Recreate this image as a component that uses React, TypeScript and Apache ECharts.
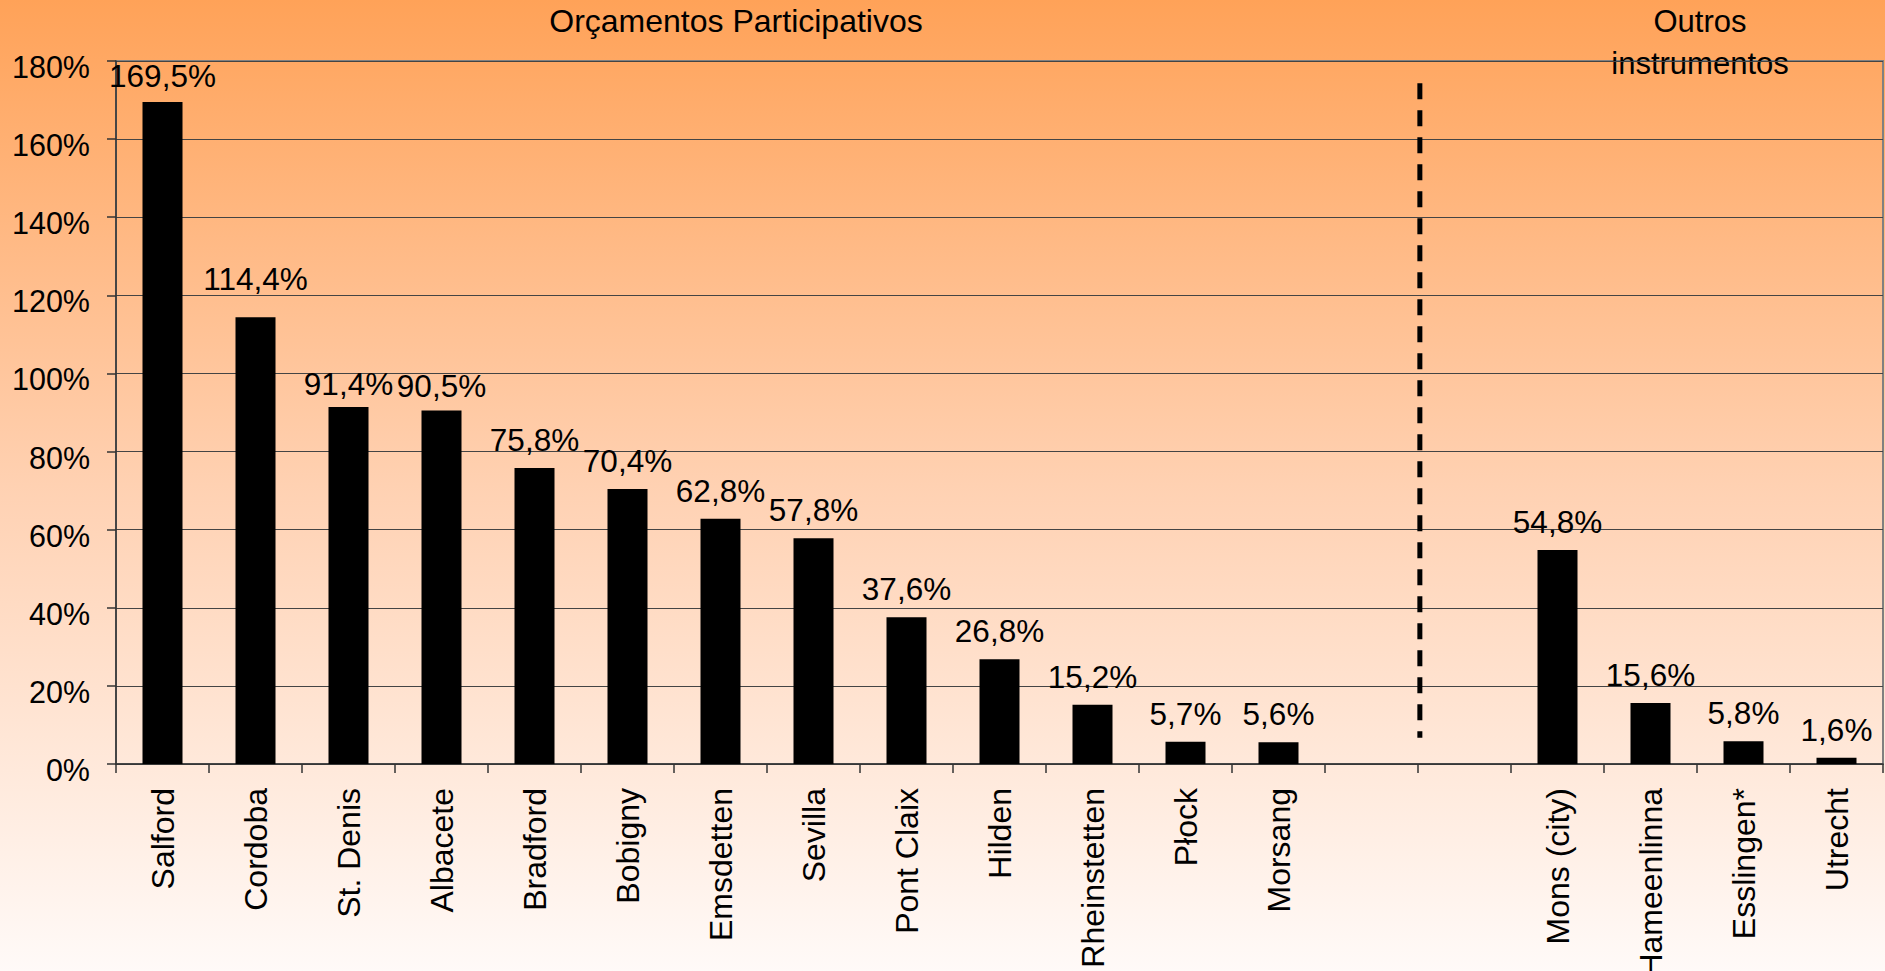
import React, { useEffect, useRef } from "react";
import * as echarts from "echarts";

const categories = [
  "Salford", "Cordoba", "St. Denis", "Albacete", "Bradford", "Bobigny", "Emsdetten",
  "Sevilla", "Pont Claix", "Hilden", "Rheinstetten", "Płock", "Morsang", "", "",
  "Mons (city)", "Hameenlinna", "Esslingen*", "Utrecht",
];
const values: (number | null)[] = [
  169.5, 114.4, 91.4, 90.5, 75.8, 70.4, 62.8, 57.8, 37.6, 26.8, 15.2, 5.7, 5.6, null, null,
  54.8, 15.6, 5.8, 1.6,
];
const yTicks = { min: 0, max: 180, interval: 20 };
const dividerLine: [number, number][] = [[14.02, 174.3], [14.02, 6.7]];
const groupTitles = ["Orçamentos Participativos", "Outros\ninstrumentos"];
// label placement tweaks (the original labels were nudged by hand)
const labelDistanceOverrides: Record<string, number> = {
  Salford: 10, Cordoba: 22, "St. Denis": 7, Albacete: 9,
};

const FONT = "'Liberation Sans', Arial, sans-serif";

export default function App() {
  const ref = useRef<HTMLDivElement>(null);
  useEffect(() => {
    if (!ref.current) return;
    const chart = echarts.init(ref.current, undefined, { renderer: "svg" });
    const data = values.map((v, i) => {
      const d = labelDistanceOverrides[categories[i]];
      return d == null ? v : { value: v, label: { distance: d } };
    });
    chart.setOption({
      animation: false,
      backgroundColor: {
        type: "linear", x: 0, y: 0, x2: 0, y2: 1,
        colorStops: [
          { offset: 0, color: "#FFA258" },
          { offset: 0.5, color: "#FFD1B2" },
          { offset: 1, color: "#FFFAF8" },
        ],
      },
      textStyle: { fontFamily: FONT },
      grid: {
        left: 116, top: 61, right: 2, bottom: 207,
        containLabel: false, outerBoundsMode: "none",
        show: true, borderColor: "#808080", borderWidth: 2, backgroundColor: "transparent",
      },
      graphic: [
        {
          type: "text", x: 736, y: 21,
          style: { text: groupTitles[0], font: `32px ${FONT}`, fill: "#000", textAlign: "center", textVerticalAlign: "middle" },
        },
        {
          type: "text", x: 1700, y: 42,
          style: { text: groupTitles[1], font: `31px ${FONT}`, lineHeight: 42, fill: "#000", textAlign: "center", textVerticalAlign: "middle" },
        },
      ],
      xAxis: [
        {
          type: "category",
          data: categories,
          axisLine: { lineStyle: { color: "#333", width: 1.5 } },
          axisTick: { show: true, length: 9, lineStyle: { color: "#333", width: 1.5 } },
          axisLabel: { rotate: 90, interval: 0, fontSize: 32, color: "#000", margin: 24, fontFamily: FONT },
        },
        { type: "value", min: 0, max: categories.length, show: false },
      ],
      yAxis: {
        type: "value",
        min: yTicks.min, max: yTicks.max, interval: yTicks.interval,
        axisLine: { show: true, lineStyle: { color: "#333", width: 1.5 } },
        axisTick: { show: true, length: 9, lineStyle: { color: "#333", width: 1.5 } },
        splitLine: { lineStyle: { color: "#444", width: 1 } },
        axisLabel: {
          formatter: "{a|{value}%}", color: "#000", margin: 26,
          rich: { a: { fontSize: 30.5, fontFamily: FONT, color: "#000", padding: [12, 0, 0, 0] } },
        },
      },
      series: [
        {
          type: "bar",
          data,
          barWidth: 40,
          itemStyle: { color: "#000" },
          label: {
            show: true, position: "top", distance: 12, fontSize: 31.5, color: "#000", fontFamily: FONT,
            formatter: (p: any) => (p.value == null ? "" : Number(p.value).toFixed(1).replace(".", ",") + "%"),
          },
        },
        {
          type: "line",
          xAxisIndex: 1,
          data: dividerLine,
          symbol: "none",
          lineStyle: { color: "#000", width: 5, type: [16, 11] },
          silent: true,
        },
      ],
    });
    return () => chart.dispose();
  }, []);
  return <div ref={ref} style={{ position: "fixed", left: 0, top: 0, width: 1885, height: 971 }} />;
}
